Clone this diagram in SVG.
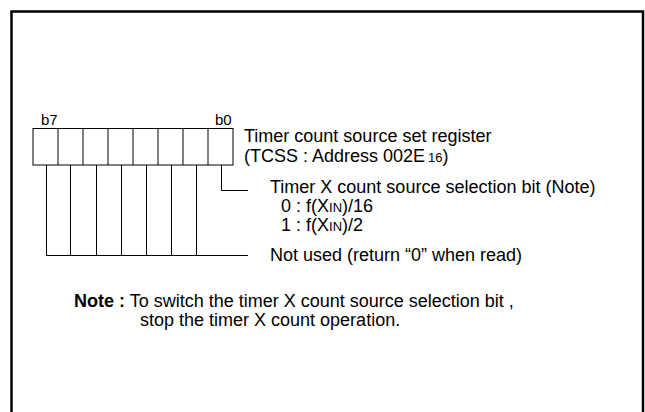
<svg xmlns="http://www.w3.org/2000/svg" width="645" height="412" viewBox="0 0 645 412">
<style>
text{font-family:"Liberation Sans",Arial,sans-serif;font-size:18px;fill:#000}
.b{font-weight:bold}
.sm{font-size:13px}
.lbl{font-size:15px}
.ln{stroke:#000;stroke-width:1;fill:none}
</style>
<rect width="645" height="412" fill="#fff"/>
<path d="M11.5,412 V11.5 H643 V412" fill="none" stroke="#000" stroke-width="2.5"/>
<g id="register">
<rect x="33" y="128.5" width="200" height="36.5" class="ln"/>
<path class="ln" d="M58,128.5V165M83,128.5V165M108,128.5V165M133,128.5V165M158,128.5V165M183,128.5V165M208,128.5V165"/>
<text class="lbl" x="41" y="125">b7</text>
<text class="lbl" x="215" y="125">b0</text>
</g>
<g id="reg-label">
<text x="244" y="142">Timer count source set register</text>
<text x="244" y="162">(TCSS : Address 002E<tspan class="sm" dx="3">16</tspan>)</text>
</g>
<g id="bit0">
<text x="270" y="193">Timer X count source selection bit (Note)</text>
<text x="281" y="212">0 : f(X<tspan class="sm">IN</tspan>)/16</text>
<text x="281" y="231">1 : f(X<tspan class="sm">IN</tspan>)/2</text>
</g>
<g id="unused">
<text x="270" y="261">Not used (return “0” when read)</text>
</g>
<g id="connectors">
<path class="ln" d="M221.5,165V190.5H248"/>
<path class="ln" d="M46.5,165V255.5M70.5,165V255.5M96.5,165V255.5M121.5,165V255.5M146.5,165V255.5M171.5,165V255.5M196.5,165V255.5M46,255.5H248"/>
</g>
<g id="note">
<text x="74" y="307"><tspan class="b">Note :</tspan> To switch the timer X count source selection bit ,</text>
<text x="140" y="326">stop the timer X count operation.</text>
</g>
</svg>
